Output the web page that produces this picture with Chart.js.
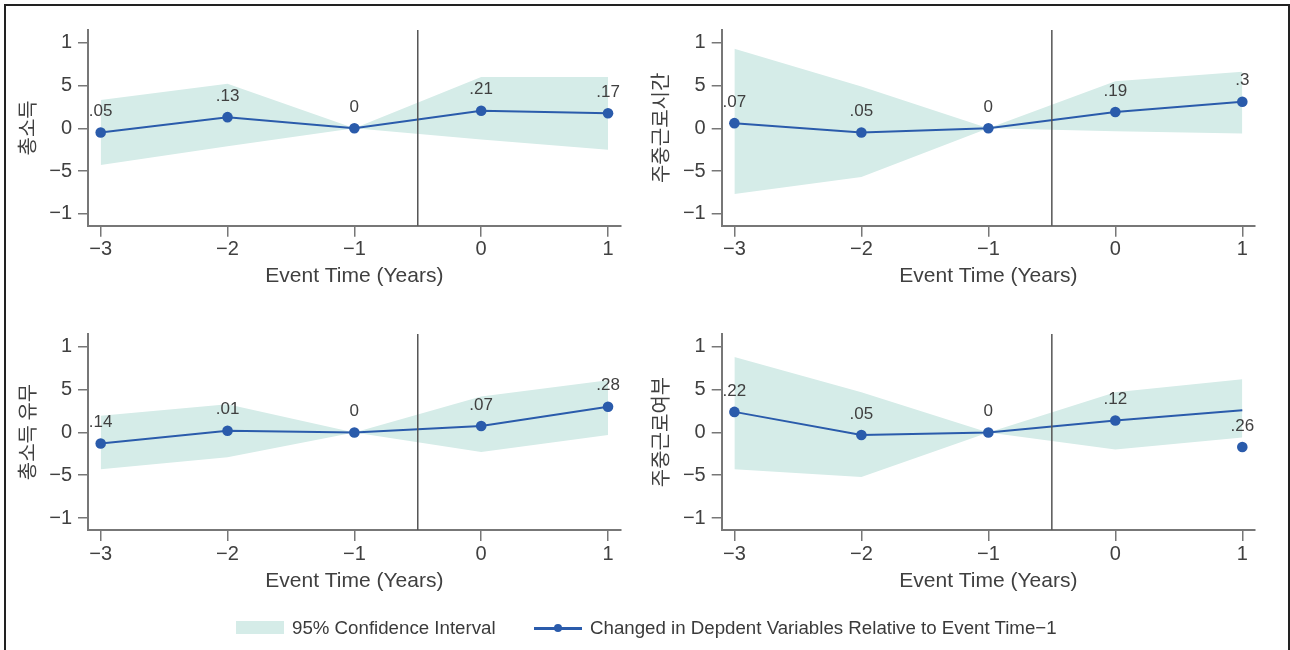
<!DOCTYPE html>
<html><head><meta charset="utf-8">
<script src="https://cdn.jsdelivr.net/npm/chart.js@4/dist/chart.umd.min.js"></script>
<style>
html,body{margin:0;padding:0;width:1290px;height:650px;overflow:hidden;background:#fff;}
canvas.panel{position:absolute;left:0;top:0;}
#frame{position:absolute;left:4px;top:4px;width:1286px;height:720px;border:2px solid #222;box-sizing:border-box;}
.lg{position:absolute;font-family:'Liberation Sans',Arial,sans-serif;font-size:18.7px;color:#3a3a3a;line-height:24px;top:616px;white-space:nowrap;}
</style></head>
<body>
<div id="frame"></div>
<canvas class="panel" id="c1" width="1290" height="650"></canvas>
<canvas class="panel" id="c2" width="1290" height="650"></canvas>
<canvas class="panel" id="c3" width="1290" height="650"></canvas>
<canvas class="panel" id="c4" width="1290" height="650"></canvas>
<div id="legend"></div>
<script>
// ---- data ----
const xVals = [-3, -2, -1, 0, 1];
const xTickVals = [-3, -2, -1, 0, 1];
const xTickLabels = ["\u22123", "\u22122", "\u22121", "0", "1"];
const yTickVals = [-1, -0.5, 0, 0.5, 1];
const yTickLabels = ["\u22121", "\u22125", "0", "5", "1"];
const eventLine = -0.5;
const xTitle = "Event Time (Years)";

const p1Title = "총소득";
const p1Est = [-0.05, 0.13, 0, 0.205, 0.175];
const p1Upper = [0.33, 0.52, 0, 0.60, 0.60];
const p1Lower = [-0.43, -0.21, 0, -0.13, -0.25];
const p1Labels = [".05", ".13", "0", ".21", ".17"];

const p2Title = "주중근로시간";
const p2Est = [0.06, -0.05, 0, 0.19, 0.31];
const p2Upper = [0.93, 0.49, 0, 0.55, 0.66];
const p2Lower = [-0.77, -0.57, 0, -0.035, -0.06];
const p2Labels = [".07", ".05", "0", ".19", ".3"];

const p3Title = "총소득 유무";
const p3Est = [-0.13, 0.02, 0, 0.075, 0.30];
const p3Upper = [0.195, 0.33, 0, 0.42, 0.61];
const p3Lower = [-0.43, -0.29, 0, -0.23, -0.03];
const p3Labels = [".14", ".01", "0", ".07", ".28"];

const p4Title = "주중근로여부";
const p4Line = [0.24, -0.03, 0, 0.14, 0.26];
const p4Est = [0.24, -0.03, 0, 0.14, -0.17];
const p4Upper = [0.88, 0.47, 0, 0.47, 0.62];
const p4Lower = [-0.43, -0.52, 0, -0.20, -0.06];
const p4Labels = [".22", ".05", "0", ".12", ".26"];

const legendBandText = "95% Confidence Interval";
const legendLineText = "Changed in Depdent Variables Relative to Event Time\u22121";

// ---- style ----
const bandColor = "#d5ece8";
const lineColor = "#2a5bab";
const axisColor = "#777777";
const textColor = "#404040";
const latin = "'Liberation Sans', Arial, sans-serif";
const korean = "'Noto Sans CJK KR', 'Noto Sans', sans-serif";
const W = 1290, H = 650, yW = 76.4, xH = 70;

const eventLinePlugin = {
  id: 'eventLine',
  afterDatasetsDraw(chart) {
    const {ctx, chartArea, scales} = chart;
    const px = scales.x.getPixelForValue(eventLine);
    ctx.save();
    ctx.strokeStyle = "#555";
    ctx.lineWidth = 1.5;
    ctx.beginPath();
    ctx.moveTo(px, chartArea.top);
    ctx.lineTo(px, chartArea.bottom);
    ctx.stroke();
    ctx.restore();
  }
};
const labelPlugin = {
  id: 'ptLabels',
  afterDatasetsDraw(chart) {
    const {ctx} = chart;
    const meta = chart.getDatasetMeta(3);
    const labels = chart.options.plugins.ptLabels.labels;
    ctx.save();
    ctx.font = "17px " + latin;
    ctx.fillStyle = textColor;
    ctx.textAlign = "center";
    ctx.textBaseline = "middle";
    meta.data.forEach((pt, i) => ctx.fillText(labels[i], pt.x, pt.y - 21));
    ctx.restore();
  }
};

function makePanel(id, box, title, upper, lower, lineVals, estVals, labels) {
  const toXY = vals => xVals.map((x, i) => ({x: x, y: vals[i]}));
  new Chart(document.getElementById(id), {
    type: 'line',
    data: {datasets: [
      {data: toXY(upper), borderWidth: 0, borderColor: 'rgba(0,0,0,0)', pointRadius: 0, fill: '+1', backgroundColor: bandColor, tension: 0, order: 3},
      {data: toXY(lower), borderWidth: 0, borderColor: 'rgba(0,0,0,0)', pointRadius: 0, fill: false, order: 3},
      {data: toXY(lineVals), borderColor: lineColor, borderWidth: 2, pointRadius: 0, fill: false, tension: 0, order: 2},
      {data: toXY(estVals), showLine: false, pointRadius: 5.3, pointBackgroundColor: lineColor, pointBorderWidth: 0, order: 1}
    ]},
    options: {
      responsive: false, animation: false, events: [],
      layout: {padding: {left: box.l - yW, top: box.t, right: W - box.r, bottom: H - box.b - xH}},
      plugins: {legend: {display: false}, tooltip: {enabled: false}, ptLabels: {labels: labels}},
      scales: {
        x: {
          type: 'linear', min: -3.1, max: 1.1,
          afterBuildTicks: s => { s.ticks = xTickVals.map(v => ({value: v})); },
          afterFit: s => { s.height = xH; },
          ticks: {callback: (v, i) => xTickLabels[i], font: {family: latin, size: 20}, color: textColor, padding: 1, maxRotation: 0, autoSkip: false},
          grid: {drawOnChartArea: false, drawTicks: true, tickLength: 11, color: axisColor, lineWidth: 1.5},
          border: {display: true, color: axisColor, width: 2},
          title: {display: true, text: xTitle, font: {family: latin, size: 21}, color: textColor, padding: {top: 0, bottom: 6.4}}
        },
        y: {
          type: 'linear', min: -1.14, max: 1.15,
          afterBuildTicks: s => { s.ticks = yTickVals.map(v => ({value: v})); },
          afterFit: s => { s.width = yW; },
          ticks: {callback: (v, i) => yTickLabels[i], font: {family: latin, size: 20}, color: textColor, padding: 6, autoSkip: false},
          grid: {drawOnChartArea: false, drawTicks: true, tickLength: 10, color: axisColor, lineWidth: 1.5},
          border: {display: true, color: axisColor, width: 2},
          title: {display: true, text: title, font: {family: korean, size: 20}, color: textColor, padding: {top: 3.5, bottom: 0}}
        }
      }
    },
    plugins: [eventLinePlugin, labelPlugin]
  });
}

makePanel('c1', {l: 88, t: 30, r: 620.7, b: 225.7}, p1Title, p1Upper, p1Lower, p1Est, p1Est, p1Labels);
makePanel('c2', {l: 721.7, t: 30, r: 1255, b: 225.7}, p2Title, p2Upper, p2Lower, p2Est, p2Est, p2Labels);
makePanel('c3', {l: 88, t: 334, r: 620.7, b: 530}, p3Title, p3Upper, p3Lower, p3Est, p3Est, p3Labels);
makePanel('c4', {l: 721.7, t: 334, r: 1255, b: 530}, p4Title, p4Upper, p4Lower, p4Line, p4Est, p4Labels);

// ---- legend ----
const lg = document.getElementById('legend');
lg.innerHTML =
  '<div style="position:absolute;left:236px;top:621px;width:48px;height:13px;background:' + bandColor + '"></div>' +
  '<span class="lg" style="left:292px">' + legendBandText + '</span>' +
  '<div style="position:absolute;left:534px;top:626.5px;width:48px;height:3px;background:' + lineColor + '"></div>' +
  '<div style="position:absolute;left:554px;top:624px;width:8px;height:8px;border-radius:50%;background:' + lineColor + '"></div>' +
  '<span class="lg" style="left:590px">' + legendLineText + '</span>';
</script>
</body></html>
